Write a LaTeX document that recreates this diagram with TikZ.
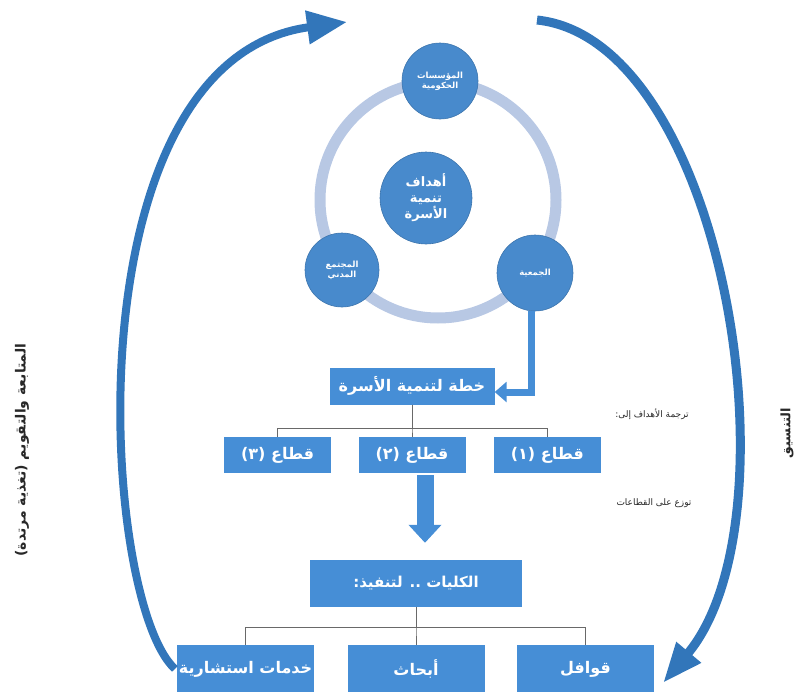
\documentclass[tikz,border=0pt]{standalone}
\usepackage{fontspec}
\newfontfamily\arabicfont[Script=Arabic]{DejaVu Sans}
\TeXXeTstate=1
\definecolor{boxblue}{RGB}{70,142,214}
\definecolor{circblue}{RGB}{72,138,204}
\definecolor{ringblue}{RGB}{184,200,228}
\definecolor{arrowblue}{RGB}{50,118,186}
\definecolor{treegray}{RGB}{105,105,105}
\definecolor{sidegray}{RGB}{40,40,40}
\usetikzlibrary{arrows.meta, positioning}
\newcommand{\artxt}[1]{{\arabicfont\beginR #1\endR}}

\begin{document}
\begin{tikzpicture}[x=1pt, y=-1pt,
    circ/.style={circle, fill=circblue, draw=circblue!85!black, line width=0.6pt, text=white,
                 font=\bfseries\fontsize{8.5}{10}\selectfont, align=center, inner sep=0pt},
    box/.style={rectangle, fill=boxblue, text=white, inner sep=0pt,
                font=\bfseries\fontsize{16}{18}\selectfont, minimum height=36pt},
    tree/.style={draw=treegray, line width=0.8pt},
    bigarrow/.style={line width=17pt, draw=boxblue, -{Triangle[length=18pt, width=32pt]}},
    sweep/.style={line width=8pt, draw=arrowblue},
    side/.style={text=sidegray, font=\fontsize{9}{10}\selectfont},
    vert/.style={text=sidegray, rotate=90, font=\bfseries\fontsize{14}{15}\selectfont}
  ]
  \useasboundingbox (0,0) rectangle (804,696);

  % Partners round the goals
  \draw[ringblue, line width=11pt] (438,200) circle[radius=118];
  \node[circ, minimum size=92pt, font=\bfseries\fontsize{13}{16}\selectfont] (goals) at (426,198)
    {\artxt{أهداف}\\\artxt{تنمية}\\\artxt{الأسرة}};
  \node[circ, minimum size=76pt] (gov) at (440,81) {\artxt{المؤسسات}\\\artxt{الحكومية}};
  \node[circ, minimum size=74pt] (civ) at (342,270) {\artxt{المجتمع}\\\artxt{المدني}};
  \node[circ, minimum size=76pt] (assoc) at (535,273) {\artxt{الجمعية}};

  % Plan and sectors
  \node[box, minimum width=165pt, minimum height=37pt] (plan) at (412,386) {\artxt{خطة لتنمية الأسرة}};
  \node[box, minimum width=107pt, below=32pt of plan] (sec2) {\artxt{قطاع (٢)}};
  \node[box, minimum width=107pt, right=28pt of sec2] (sec1) {\artxt{قطاع (١)}};
  \node[box, minimum width=107pt, left=27pt of sec2] (sec3) {\artxt{قطاع (٣)}};

  \draw[line width=7pt, draw=boxblue, -{Triangle[length=12pt, width=20pt]}]
    ([xshift=-4pt]assoc.south) |- ([yshift=-6pt]plan.east);
  \foreach \s in {sec1,sec2,sec3}
    \draw[tree] (plan.south) -- ++(0,24) -| (\s.north);

  \node[side] (transl) at (652,414) {\artxt{ترجمة الأهداف إلى:}};
  \node[side] (distr) at (654,503) {\artxt{توزع على القطاعات}};

  % Colleges
  \node[box, minimum width=212pt, minimum height=47pt, font=\bfseries\fontsize{15}{17}\selectfont] (kol) at (416,583.5)
    {\artxt{الكليات .. لتنفيذ:}};
  \draw[bigarrow] ([xshift=13pt, yshift=-2pt]sec2.south) -- ([xshift=9pt, yshift=17pt]kol.north);

  \node[box, minimum width=137pt, minimum height=47pt, below=38pt of kol] (abh) {\artxt{أبحاث}};
  \node[box, minimum width=137pt, minimum height=47pt, right=32pt of abh] (qaw) {\artxt{قوافل}};
  \node[box, minimum width=137pt, minimum height=47pt, left=33pt of abh] (khad) {\artxt{خدمات استشارية}};
  \foreach \s in {qaw,abh,khad}
    \draw[tree] (kol.south) -- ++(0,20) -| (\s.north);

  % Feedback and coordination
  \coordinate (fbtip) at (347,22);
  \coordinate (cotail) at (537,20);
  \draw[sweep, -{Triangle[length=40pt, width=32pt]}]
    ([xshift=-2pt]khad.west) .. controls (100,600) and (68,60) .. (fbtip);
  \draw[sweep, line width=9pt, -{Triangle[length=40pt, width=30pt]}]
    (cotail) .. controls (725,40) and (800,520) .. ([xshift=9pt, yshift=-14pt]qaw.east);

  \node[vert] (follow) at (22,450) {\artxt{المتابعة والتقويم (تغذية مرتدة)}};
  \node[vert, font=\bfseries\fontsize{13}{14}\selectfont] (coord) at (787,433) {\artxt{التنسيق}};
\end{tikzpicture}
\end{document}
